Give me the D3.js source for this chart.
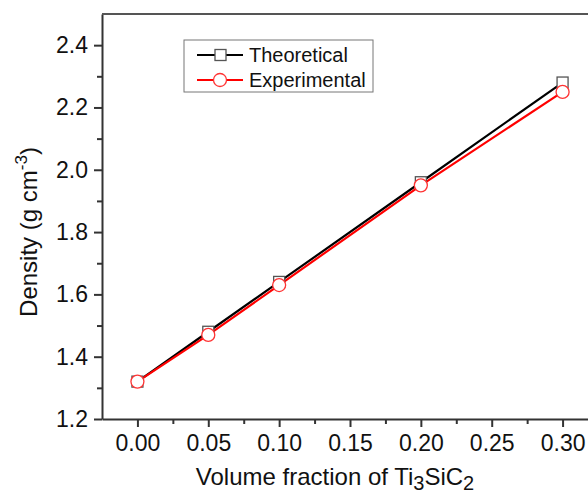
<!DOCTYPE html>
<html>
<head>
<meta charset="utf-8">
<script src="https://cdn.jsdelivr.net/npm/d3@7"></script>
<style>
  body { margin: 0; background: #fff; }
  svg { display: block; font-family: Arial, "Liberation Sans", sans-serif; }
</style>
</head>
<body>
<div class="box"></div>
<script>
// DATA
const fractions = [0, 0.05, 0.10, 0.20, 0.30];
const theoretical = [1.32, 1.48, 1.64, 1.96, 2.28];
const experimental = [1.32, 1.47, 1.63, 1.95, 2.25];
const seriesNames = ['Theoretical', 'Experimental'];
const xTicks = [0, 0.05, 0.10, 0.15, 0.20, 0.25, 0.30];
const yTicks = [1.2, 1.4, 1.6, 1.8, 2.0, 2.2, 2.4];

// SETUP
const svg = d3.select('.box')
              .append('svg')
              .attr('width', 588)
              .attr('height', 493);

const margin = {top: 14, left: 102};
const graphWidth = 496;   // right part of the frame falls outside the picture
const graphHeight = 405;

const graph = svg.append('g')
                 .attr('transform', `translate(${margin.left}, ${margin.top})`);

const x = d3.scaleLinear()
            .domain([-0.025, 0.325])
            .range([0, graphWidth]);
const y = d3.scaleLinear()
            .domain([1.2, 2.5])
            .range([graphHeight, 0]);

const axisColor = '#333';

// minor ticks first
const xMinor = d3.range(0.025, 0.33, 0.05);
const yMinor = d3.range(1.3, 2.45, 0.2);

graph.append('g')
     .attr('transform', `translate(0, ${graphHeight})`)
     .call(d3.axisBottom(x).tickValues(xMinor).tickSize(5).tickFormat(''))
     .call(g => g.select('.domain').remove())
     .selectAll('line').attr('stroke', axisColor).attr('stroke-width', 2);

graph.append('g')
     .call(d3.axisLeft(y).tickValues(yMinor).tickSize(5).tickFormat(''))
     .call(g => g.select('.domain').remove())
     .selectAll('line').attr('stroke', axisColor).attr('stroke-width', 2);

// major axes
const groupeX = graph.append('g')
                     .attr('transform', `translate(0, ${graphHeight})`)
                     .call(d3.axisBottom(x).tickValues(xTicks).tickSize(8).tickSizeOuter(0)
                             .tickPadding(8).tickFormat(d3.format('.2f')));
const groupeY = graph.append('g')
                     .call(d3.axisLeft(y).tickValues(yTicks).tickSize(8).tickSizeOuter(0)
                             .tickPadding(6).tickFormat(d3.format('.1f')));

[groupeX, groupeY].forEach(g => {
  g.select('.domain').attr('stroke', axisColor).attr('stroke-width', 2);
  g.selectAll('line').attr('stroke', axisColor).attr('stroke-width', 2);
  g.selectAll('text').attr('fill', '#111').style('font-size', '23px').style('font-family', 'Arial, "Liberation Sans", sans-serif');
});

// top frame line
graph.append('line')
     .attr('x1', 0).attr('x2', graphWidth)
     .attr('y1', 0).attr('y2', 0)
     .attr('stroke', '#555').attr('stroke-width', 2);

// LINES AND MARKERS
const line = d3.line()
               .x(d => x(d[0]))
               .y(d => y(d[1]));

const thData = fractions.map((f, i) => [f, theoretical[i]]);
const exData = fractions.map((f, i) => [f, experimental[i]]);

graph.append('path')
     .datum(thData)
     .attr('d', line)
     .attr('fill', 'none')
     .attr('stroke', '#000')
     .attr('stroke-width', 2.2);

graph.append('path')
     .datum(exData)
     .attr('d', line)
     .attr('fill', 'none')
     .attr('stroke', '#f00')
     .attr('stroke-width', 2.2);

graph.selectAll('rect.th')
     .data(thData)
     .enter()
     .append('rect')
     .attr('class', 'th')
     .attr('x', d => x(d[0]) - 5.5)
     .attr('y', d => y(d[1]) - 5.5)
     .attr('width', 11)
     .attr('height', 11)
     .attr('fill', '#fff')
     .attr('stroke', '#555')
     .attr('stroke-width', 1.3);

graph.selectAll('circle.ex')
     .data(exData)
     .enter()
     .append('circle')
     .attr('class', 'ex')
     .attr('cx', d => x(d[0]))
     .attr('cy', d => y(d[1]))
     .attr('r', 6.5)
     .attr('fill', '#fff')
     .attr('stroke', '#f33')
     .attr('stroke-width', 1.3);

// LEGEND
const legend = svg.append('g').attr('transform', 'translate(184, 40)');
legend.append('rect')
      .attr('width', 189).attr('height', 52)
      .attr('fill', '#fff')
      .attr('stroke', '#777').attr('stroke-width', 1);

seriesNames.forEach((name, i) => {
  const row = legend.append('g').attr('transform', `translate(0, ${15 + i * 25})`);
  row.append('line')
     .attr('x1', 13).attr('x2', 59)
     .attr('stroke', i === 0 ? '#000' : '#f00')
     .attr('stroke-width', 2);
  if (i === 0) {
    row.append('rect')
       .attr('x', 31).attr('y', -5.5).attr('width', 11).attr('height', 11)
       .attr('fill', '#fff').attr('stroke', '#555').attr('stroke-width', 1.3);
  } else {
    row.append('circle')
       .attr('cx', 36).attr('r', 6.5)
       .attr('fill', '#fff').attr('stroke', '#f33').attr('stroke-width', 1.3);
  }
  row.append('text')
     .attr('x', 65).attr('y', 7)
     .style('font-size', '20px')
     .attr('fill', '#111')
     .text(name);
});

// AXIS TITLES
const xTitle = svg.append('text')
                  .attr('x', 335).attr('y', 485)
                  .attr('text-anchor', 'middle')
                  .style('font-size', '24px')
                  .attr('fill', '#111');
xTitle.append('tspan').text('Volume fraction of Ti');
xTitle.append('tspan').attr('dy', 5).style('font-size', '20px').text('3');
xTitle.append('tspan').attr('dy', -5).text('SiC');
xTitle.append('tspan').attr('dy', 5).style('font-size', '20px').text('2');

const yTitle = svg.append('text')
                  .attr('transform', 'translate(37, 232) rotate(-90)')
                  .attr('text-anchor', 'middle')
                  .style('font-size', '24px')
                  .attr('fill', '#111');
yTitle.append('tspan').text('Density (g cm');
yTitle.append('tspan').attr('dy', -10).style('font-size', '17px').text('-3');
yTitle.append('tspan').attr('dy', 10).text(')');
</script>
</body>
</html>
